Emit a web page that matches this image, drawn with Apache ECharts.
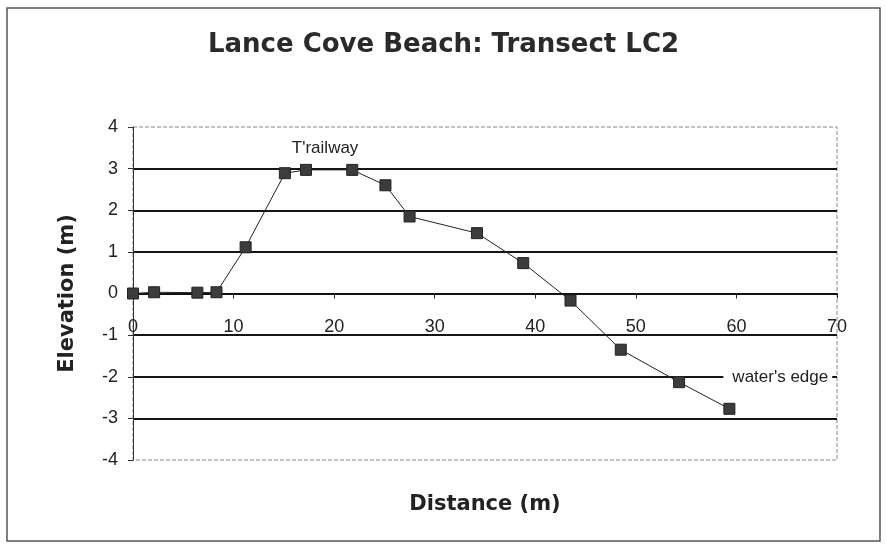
<!DOCTYPE html>
<html>
<head>
<meta charset="utf-8">
<script src="https://cdn.jsdelivr.net/npm/echarts@6/dist/echarts.min.js"></script>
<style>
  html, body { margin: 0; padding: 0; background: #fff; }
  #chart { width: 887px; height: 544px; }
</style>
</head>
<body>
<div id="chart"></div>
<script>
// transect survey points
const distance = [0, 2.1, 6.4, 8.3, 11.2, 15.1, 17.2, 21.8, 25.1, 27.5, 34.2, 38.8, 43.5, 48.5, 54.3, 59.3];
const elevation = [0, 0.03, 0.02, 0.03, 1.11, 2.89, 2.97, 2.97, 2.6, 1.85, 1.45, 0.73, -0.17, -1.35, -2.13, -2.77];
// notes on the profile
const notes = [
  { text: "T'railway", at: [19.1, 3.48] },
  { text: "water's edge", at: [58.7, -2.02] }
];

const chart = echarts.init(document.getElementById('chart'));
const font = 'Liberation Sans, Arial, sans-serif';
const boldFont = 'DejaVu Sans, sans-serif';

// plot box; the distance axis is lifted up to the zero line
const gridTop = 127, gridBottom = 84;
const plotH = 544 - gridTop - gridBottom;
const zeroOffset = -plotH * (0 - -4) / 8;

chart.setOption({
  backgroundColor: '#fff',
  animation: false,
  title: {
    text: 'Lance Cove Beach: Transect LC2',
    left: 'center',
    top: 27,
    textStyle: { fontFamily: boldFont, fontWeight: 'bold', fontSize: 26, color: '#2a2a2a' }
  },
  graphic: [{
    type: 'rect',
    z: -1,
    shape: { x: 7, y: 8, width: 873, height: 533 },
    style: { fill: 'none', stroke: '#555', lineWidth: 1.5 }
  }],
  grid: {
    left: 133, right: 50, top: gridTop, bottom: gridBottom,
    outerBoundsMode: 'none',
    show: true,
    borderColor: '#888',
    borderWidth: 1,
    borderType: 'dashed'
  },
  xAxis: {
    type: 'value',
    min: 0, max: 70, interval: 10,
    offset: zeroOffset,
    name: 'Distance (m)',
    nameLocation: 'middle',
    nameGap: 201,
    nameTextStyle: { fontFamily: boldFont, fontWeight: 'bold', fontSize: 21, color: '#222' },
    axisLine: { onZero: false, lineStyle: { color: '#111', width: 2 } },
    axisTick: { show: true, length: 5, lineStyle: { color: '#222' } },
    axisLabel: { fontFamily: font, fontSize: 18, color: '#222', margin: 25 },
    splitLine: { show: false }
  },
  yAxis: {
    type: 'value',
    min: -4, max: 4, interval: 1,
    name: 'Elevation (m)',
    nameLocation: 'middle',
    nameGap: 55,
    nameTextStyle: { fontFamily: boldFont, fontWeight: 'bold', fontSize: 21, color: '#222' },
    axisLine: { show: true, lineStyle: { color: '#333', width: 1 } },
    axisTick: { show: true, length: 5, lineStyle: { color: '#333' } },
    axisLabel: { fontFamily: font, fontSize: 18, color: '#222', margin: 15 },
    splitLine: {
      show: true,
      showMinLine: false,
      showMaxLine: false,
      lineStyle: { color: '#151515', width: 2 }
    }
  },
  series: [{
    type: 'line',
    data: distance.map((d, i) => [d, elevation[i]]),
    symbol: 'rect',
    symbolSize: 11,
    lineStyle: { color: '#222', width: 1 },
    itemStyle: { color: '#3c3c3c', borderColor: '#222', borderWidth: 1 },
    markPoint: {
      symbol: 'circle',
      symbolSize: 0,
      data: [
        {
          coord: notes[0].at,
          label: {
            show: true, position: 'inside', formatter: notes[0].text,
            fontFamily: font, fontSize: 17, color: '#222'
          }
        },
        {
          coord: notes[1].at,
          label: {
            show: true, position: 'right', distance: 0, formatter: notes[1].text,
            fontFamily: font, fontSize: 17, color: '#222',
            backgroundColor: '#fff', padding: [3, 4, 3, 9]
          }
        }
      ]
    }
  }]
});
</script>
</body>
</html>
